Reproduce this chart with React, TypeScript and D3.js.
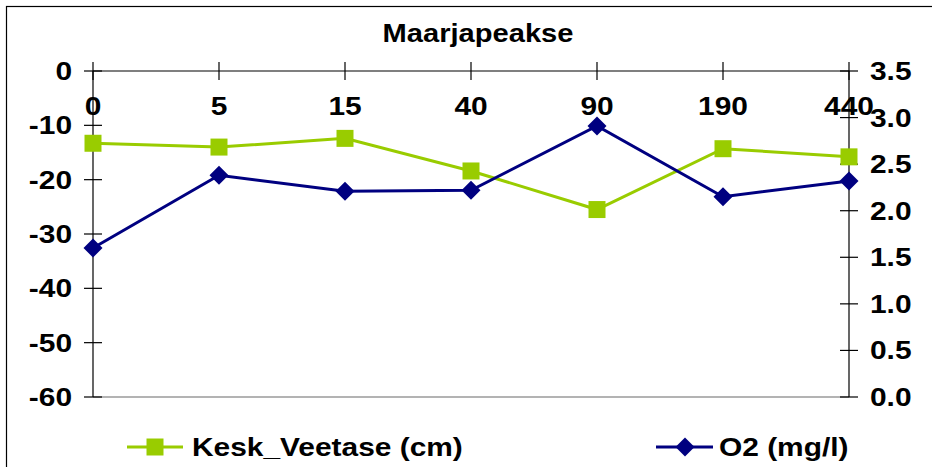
import React from "react";
import * as d3 from "d3";

const categories = ["0", "5", "15", "40", "90", "190", "440"];
const keskVeetase = [-13.3, -14.0, -12.4, -18.4, -25.5, -14.3, -15.8];
const o2 = [1.6, 2.38, 2.21, 2.22, 2.91, 2.15, 2.32];
const leftTicks = [0, -10, -20, -30, -40, -50, -60];
const rightTicks = [3.5, 3.0, 2.5, 2.0, 1.5, 1.0, 0.5, 0.0];
const title = "Maarjapeakse";
const seriesNames = ["Kesk_Veetase (cm)", "O2 (mg/l)"];

const W = 932;
const H = 467;
const GREEN = "#99CC00";
const BLUE = "#000080";
const FONT = "'Liberation Sans', Arial, Helvetica, sans-serif";

function SText({ x, y, anchor = "start", size = 26, sx = 1.15, children }: any) {
  return (
    <text
      transform={`translate(${x},${y}) scale(${sx},1)`}
      textAnchor={anchor}
      fontSize={size}
      fontWeight="bold"
      fontFamily={FONT}
      fill="#000"
    >
      {children}
    </text>
  );
}

const square = (cx: number, cy: number, s: number) =>
  `M${cx - s / 2},${cy - s / 2}h${s}v${s}h${-s}Z`;
const diamond = (cx: number, cy: number, r: number) =>
  `M${cx},${cy - r}L${cx + r},${cy}L${cx},${cy + r}L${cx - r},${cy}Z`;

export default function App() {
  const left = 93;
  const right = 849;
  const top = 71;
  const bottom = 397;
  const x = d3.scalePoint<string>().domain(categories).range([left, right]);
  const yL = d3.scaleLinear().domain([-60, 0]).range([bottom, top]);
  const yR = d3.scaleLinear().domain([0, 3.5]).range([bottom, top]);

  const greenLine = d3
    .line<number>()
    .x((_, i) => x(categories[i])!)
    .y((d) => yL(d))(keskVeetase)!;
  const blueLine = d3
    .line<number>()
    .x((_, i) => x(categories[i])!)
    .y((d) => yR(d))(o2)!;

  const fmtR = d3.format(".1f");

  return (
    <svg
      width={W}
      height={H}
      style={{ position: "absolute", left: 0, top: 0, background: "#fff" }}
    >
      <rect x={0} y={0} width={W} height={H} fill="#fff" />
      {/* outer frame */}
      <rect x={6.5} y={6.5} width={W + 10} height={H + 10} fill="none" stroke="#000" strokeWidth={1.2} />

      <SText x={478} y={42} anchor="middle" size={26} sx={1.12}>
        {title}
      </SText>

      {/* bottom plot border */}
      <line x1={left} x2={right} y1={bottom} y2={bottom} stroke="#9a9a9a" strokeWidth={1.5} />

      {/* top category axis */}
      <line x1={left} x2={right} y1={top} y2={top} stroke="#000" strokeWidth={1.2} />
      {categories.map((c) => (
        <g key={c}>
          <line x1={x(c)} x2={x(c)} y1={top - 9} y2={top + 9} stroke="#000" strokeWidth={1.2} />
          <SText x={x(c)} y={115} anchor="middle">
            {c}
          </SText>
        </g>
      ))}

      {/* left axis */}
      <line x1={left} x2={left} y1={top} y2={bottom} stroke="#000" strokeWidth={1.2} />
      {leftTicks.map((t) => (
        <g key={t}>
          <line x1={left - 9} x2={left + 9} y1={yL(t)} y2={yL(t)} stroke="#000" strokeWidth={1.2} />
          <SText x={72} y={yL(t) + 9} anchor="end">
            {t}
          </SText>
        </g>
      ))}

      {/* right axis */}
      <line x1={right} x2={right} y1={top} y2={bottom} stroke="#000" strokeWidth={1.2} />
      {rightTicks.map((t) => (
        <g key={t}>
          <line x1={right - 9} x2={right + 9} y1={yR(t)} y2={yR(t)} stroke="#000" strokeWidth={1.2} />
          <SText x={870} y={yR(t) + 9} anchor="start">
            {fmtR(t)}
          </SText>
        </g>
      ))}

      {/* series */}
      <path d={greenLine} fill="none" stroke={GREEN} strokeWidth={3} />
      {keskVeetase.map((v, i) => (
        <path key={"g" + i} d={square(x(categories[i])!, yL(v), 17)} fill={GREEN} />
      ))}
      <path d={blueLine} fill="none" stroke={BLUE} strokeWidth={3} />
      {o2.map((v, i) => (
        <path key={"b" + i} d={diamond(x(categories[i])!, yR(v), 9.5)} fill={BLUE} />
      ))}

      {/* legend */}
      <line x1={127} x2={183} y1={447} y2={447} stroke={GREEN} strokeWidth={3} />
      <path d={square(155, 447, 17)} fill={GREEN} />
      <SText x={192} y={456} anchor="start">
        {seriesNames[0]}
      </SText>
      <line x1={656} x2={713} y1={447} y2={447} stroke={BLUE} strokeWidth={3} />
      <path d={diamond(685, 447, 9.5)} fill={BLUE} />
      <SText x={719} y={456} anchor="start">
        {seriesNames[1]}
      </SText>
    </svg>
  );
}
